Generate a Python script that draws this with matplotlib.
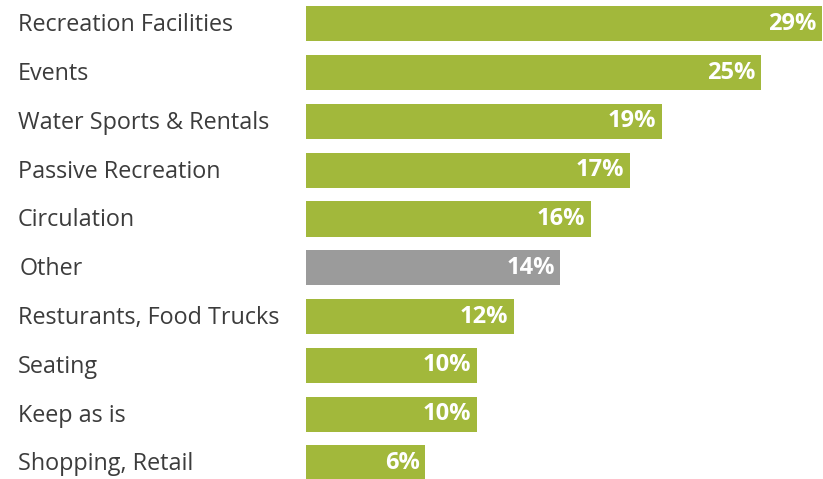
import matplotlib.pyplot as plt
from matplotlib import transforms

# survey answers, top to bottom
categories = ["Recreation Facilities", "Events", "Water Sports & Rentals",
              "Passive Recreation", "Circulation", "Other",
              "Resturants, Food Trucks", "Seating", "Keep as is",
              "Shopping, Retail"]
pct_labels = ["29%", "25%", "19%", "17%", "16%", "14%", "12%", "10%", "10%", "6%"]
# bar lengths as drawn in the picture (same units as the % labels)
bar_vals = [29.0, 25.6, 20.0, 18.2, 16.0, 14.3, 11.7, 9.6, 9.6, 6.7]

green = "#A2B83B"
grey = "#9B9B9B"
colors = [grey if c == "Other" else green for c in categories]

plt.rcParams['font.family'] = ['Open Sans', 'DejaVu Sans']

fig = plt.figure(figsize=(8.23, 4.79), dpi=100)
ax = fig.add_axes([306 / 823, 0, 1 - 306 / 823, 1])

y = list(range(len(categories)))
ax.barh(y, bar_vals, height=0.72, color=colors)

ax.set_xlim(0, 517 / 17.79)
ax.set_ylim(9.33, -0.49)
ax.axis("off")

trans = transforms.blended_transform_factory(fig.transFigure, ax.transData)
for i, name in enumerate(categories):
    x0 = 20 / 823 if name == "Other" else 18 / 823
    ax.text(x0, i + 0.03, name, transform=trans, ha="left", va="center",
            fontsize=16.8, color="#3c3c3c", clip_on=False)
    ax.annotate(pct_labels[i], (bar_vals[i], i), xytext=(-4, 0),
                textcoords="offset points", ha="right", va="center",
                fontsize=17, fontweight="bold", color="white")

fig.savefig("out.png", dpi=100)
